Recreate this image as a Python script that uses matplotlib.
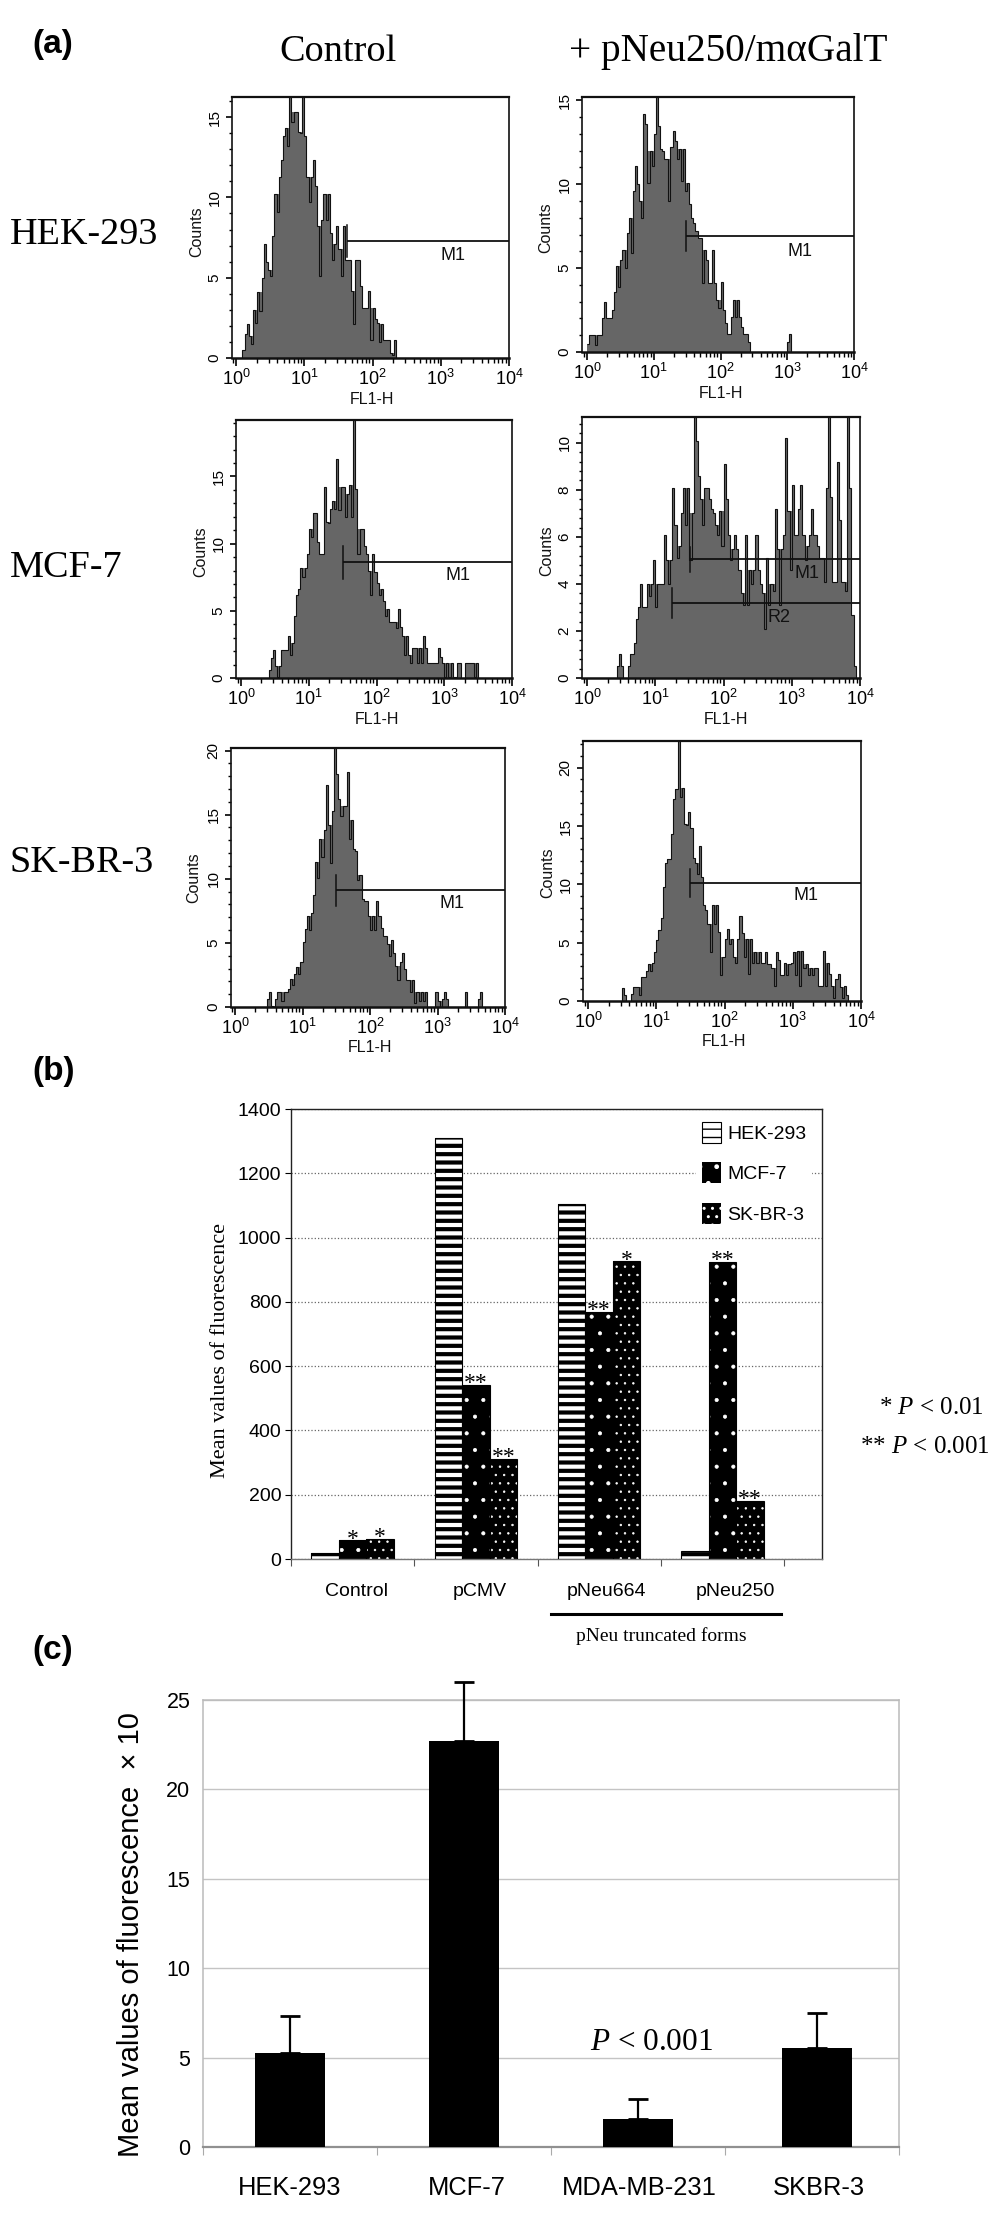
import numpy as np
import matplotlib
matplotlib.use('Agg')
import matplotlib.pyplot as plt
from matplotlib.ticker import MultipleLocator, LogLocator, NullFormatter

plt.rcParams['font.family'] = 'Liberation Sans'
plt.rcParams['mathtext.fontset'] = 'custom'
plt.rcParams['mathtext.rm'] = 'Liberation Serif'
plt.rcParams['mathtext.it'] = 'Liberation Serif:italic'

W, H = 1004, 2221
SERIF = 'Liberation Serif'

# flow cytometry counts, one value per channel (32 channels a decade)
hek_control = [0, 0, 0, .5, 1.5, 2.1, 1.4, .9, 3.0, 2.2, 4.1, 2.9, 5.0, 7.1, 6.0, 5.5, 5.1, 7.6, 10.2, 9.1,
               11.3, 12.3, 13.8, 14.3, 13.2, 17, 14.7, 15.3, 15.3, 14.1, 14.0, 17, 13.8, 11.3, 9.7, 11.3, 12.3,
               10.7, 8.2, 5.1, 8.6, 10.2, 8.6, 10.2, 7.8, 6.1, 7.1, 8.2, 6.8, 5.1, 8.2, 6.1, 6.1, 6.1, 4.2, 2.1,
               6.1, 6.1, 4.5, 3.1, 3.1, 3.1, 4.2, 1.1, 3.1, 2.4, 2.2, 1.0, 2.1, 1.1, 1.1, 1.1, .3, .2, 1.1]
hek_neu = [.5, 1.0, 1.0, 1.0, .4, 1.0, 1.0, 2.0, 3.0, 2.0, 2.0, 2.0, 2.5, 3.6, 5.1, 3.9, 5.5, 6.1, 5.0, 7.1, 8.0,
           5.9, 9.6, 11.1, 10.0, 9.0, 8.0, 14.2, 13.6, 10.1, 12.0, 11.1, 13.0, 15.6, 13.5, 12.1, 12.0, 11.5, 11.5,
           9.0, 12.2, 13.2, 12.6, 11.5, 12.1, 10.2, 12.1, 9.6, 10.1, 8.8, 8.0, 7.7, 7.2, 6.8, 6.8, 4.1, 6.1, 5.5,
           4.1, 4.1, 6.1, 4.1, 3.1, 2.6, 4.2, 2.5, 1.7, 1.1, 1.1, 2.1, 3.1, 2.1, 3.1, 2.1, 1.5, 1.1, 1.1, .6, 0,
           0, 0, 0, 0, 0, 0, 0, 0, 0, 0, 0, 0, 0, 0, 0, 0, 0, .6, 1.1]
mcf_control = [0, 0, 0, 0, 0, 0, 0, 0, 0, 0, 0, 0, 0, .6, 1.5, 2.1, .9, .1, .9, 2.1, 2.1, 2.1, 3.1, 1.7, 2.6, 4.6,
               6.2, 6.6, 8.2, 7.5, 8.2, 9.2, 11.1, 10.5, 12.3, 12.3, 10.1, 9.2, 9.2, 14.2, 11.6, 11.5, 12.6, 13.2,
               12.6, 16.3, 12.5, 14.2, 14.2, 12.0, 13.7, 14.4, 12.0, 20, 14.1, 9.2, 11.1, 11.1, 9.8, 9.2, 8.0, 6.2,
               9.2, 7.9, 7.1, 6.2, 6.6, 5.7, 4.6, 5.1, 4.2, 4.2, 4.2, 3.7, 5.1, 3.8, 3.1, 1.7, 3.1, 1.7, 1.1, 2.2,
               2.2, 1.1, 2.2, 1.1, 3.1, 2.2, 1.1, 1.1, 1.1, 1.1, 1.1, 2.2, 1.6, 1.1, .1, 1.1, .1, 1.1, .1, .1, 1.1,
               1.1, 0, 0, 1.1, 1.1, 1.1, 1.1, .1, 1.1]
mcf_neu = [0, 0, 0, 0, 0, 0, 0, 0, 0, 0, 0, 0, 0, 0, .5, 1.0, .5, 0, 0, .5, 1.0, 1.0, 1.5, 2.5, 3.0, 4.0, 3.0, 3.0,
           4.0, 3.5, 4.0, 5.0, 3.0, 4.0, 4.0, 4.0, 6.1, 5.0, 4.0, 5.0, 8.1, 6.5, 5.1, 5.6, 7.0, 8.1, 6.5, 8.1, 5.0,
           7.0, 12, 10.1, 8.6, 7.6, 6.5, 8.1, 8.1, 7.6, 7.2, 7.0, 6.5, 6.1, 7.1, 5.6, 9.1, 7.6, 6.1, 5.0, 5.5, 6.1,
           5.5, 4.6, 3.6, 3.1, 6.1, 3.1, 4.6, 4.0, 4.6, 6.1, 4.6, 4.0, 3.6, 2.1, 5.1, 3.1, 4.0, 3.7, 7.2, 5.5, 3.1,
           5.5, 6.1, 10.2, 7.1, 4.6, 8.2, 6.1, 6.1, 7.2, 8.2, 6.1, 5.0, 5.6, 6.1, 7.2, 6.1, 6.1, 5.6, 5.1, 5.1, 4.1,
           8.1, 12, 7.7, 4.1, 4.1, 9.2, 6.7, 4.1, 4.1, 3.7, 12, 8.1, 2.7, .5]
sk_control = [0, 0, 0, 0, 0, 0, 0, 0, 0, 0, 0, 0, 0, 0, 0, .6, 1.2, .1, 0, .6, 1.2, 1.2, .5, 1.2, 1.2, 1.4, 2.2, 1.7,
              2.6, 3.1, 2.6, 3.5, 5.1, 6.1, 7.1, 6.0, 7.3, 8.7, 11.3, 10.1, 13.1, 11.7, 13.8, 17.3, 14.2, 11.2, 15.3,
              21, 18.2, 16.2, 14.9, 15.7, 15.7, 18.3, 13.1, 14.6, 12.3, 12.2, 9.9, 10.3, 8.4, 8.3, 8.3, 7.1, 6.0, 7.1,
              6.0, 8.3, 7.1, 6.2, 5.5, 5.5, 4.9, 4.0, 5.2, 4.2, 3.2, 2.1, 3.5, 4.2, 3.0, 2.1, 2.1, 1.2, 2.1, .3, 1.2,
              .5, 1.2, .5, 1.2, 0, 0, 0, 0, 1.2, .5, 0, .6, 1.2, .6, 0, 0, 0, 0, 0, 0, 0, 0, 1.2, 0, 0, 0, 0, 0, .6, 1.2]
sk_neu = [0, 0, 0, 0, 0, 0, 0, 0, 0, 0, 0, 0, 0, 0, 0, 0, 1.1, .5, 0, 0, .6, 1.2, 1.2, 1.2, .5, 2.1, 2.1, 2.6, 3.2, 2.6,
          3.3, 4.2, 5.2, 6.1, 7.1, 9.8, 11.8, 12.2, 12.2, 14.3, 17.3, 18.2, 23, 17.5, 18.3, 15.2, 15.1, 16.2, 14.8,
          12.3, 11.8, 10.9, 13.3, 10.6, 8.2, 7.8, 6.6, 4.2, 8.2, 6.6, 8.2, 5.9, 2.2, 3.8, 5.3, 6.2, 4.9, 5.3, 3.8, 3.3,
          5.3, 7.3, 5.8, 3.8, 5.3, 2.3, 5.3, 3.3, 4.2, 3.3, 4.2, 3.3, 3.3, 4.2, 3.2, 3.2, 2.8, 1.3, 4.2, 3.5, 2.2, 2.2,
          3.3, 2.2, 3.2, 3.3, 4.2, 2.2, 4.3, 1.3, 4.3, 2.8, 3.2, 2.2, 2.8, 2.2, 2.8, 2.8, 1.3, 1.3, 4.3, 1.3, 3.3, 2.3,
          1.3, .3, 1.9, 2.3, 1.2, .3, 1.3, .5]

# panel (b)
groups_b = ['Control', 'pCMV', 'pNeu664', 'pNeu250']
hek_b = [20, 1311, 1105, 24]
mcf_b = [58, 541, 769, 923]
skbr_b = [63, 311, 926, 182]
hek_stars = ['', '', '', '']
mcf_stars = ['*', '**', '**', '**']
skbr_stars = ['*', '**', '*', '**']

# panel (c)
cells_c = ['HEK-293', 'MCF-7', 'MDA-MB-231', 'SKBR-3']
means_c = [5.26, 22.7, 1.58, 5.55]
errs_c = [2.07, 3.3, 1.09, 1.95]

fig = plt.figure(figsize=(W / 100, H / 100), dpi=100, facecolor='white')


def add_ax(l, t, r, b):
    return fig.add_axes([l / W, 1 - b / H, (r - l) / W, (b - t) / H])


def ftext(x, y, s, **kw):
    kw.setdefault('ha', 'center')
    kw.setdefault('va', 'center')
    return fig.text(x / W, 1 - y / H, s, **kw)


def facs(vals, box, x0, x4, ytop, ymaj, ymin, gates, counts_xy, fl1_xy):
    l, t, r, b = box
    ax = add_ax(l, t, r, b)
    ax.set_xscale('log')
    edges = np.logspace(0, 4, 129)
    y = np.zeros(128)
    y[:len(vals)] = vals
    # one channel dips stay grey under the black trace, as on the cytometer print
    solid = np.maximum(y, np.minimum(np.r_[0, y[:-1]], np.r_[y[1:], 0]))
    ax.stairs(solid, edges, fill=True, color='#666666', lw=0, baseline=0)
    ax.stairs(y, edges, color='#111111', lw=0.8, baseline=None)
    dec = (x4 - x0) / 4
    ax.set_xlim(10 ** ((l - x0) / dec), 10 ** ((r - x0) / dec))
    ax.set_ylim(0, ytop)
    ax.xaxis.set_major_locator(LogLocator(base=10, numticks=8))
    ax.xaxis.set_minor_locator(LogLocator(base=10, subs=np.arange(2, 10), numticks=12))
    ax.xaxis.set_minor_formatter(NullFormatter())
    ax.yaxis.set_major_locator(MultipleLocator(ymaj))
    ax.yaxis.set_minor_locator(MultipleLocator(ymin))
    ax.tick_params(axis='x', which='major', length=5.5, width=1.2, labelsize=13, pad=2)
    ax.tick_params(axis='x', which='minor', length=3.5, width=1)
    ax.tick_params(axis='y', which='major', length=4.5, width=1.2, labelsize=11, pad=3)
    ax.tick_params(axis='y', which='minor', length=2.5, width=1)
    for lab in ax.get_yticklabels():
        lab.set_rotation(90)
        lab.set_va('center')
    for s in ax.spines.values():
        s.set_linewidth(1.2)
        s.set_color('#111111')
    ax.spines['top'].set_linewidth(1.6)
    ax.spines['bottom'].set_linewidth(1.8)
    for g in gates:
        gx, gy, dy, name, nx, ny = g
        ax.plot([gx, 1e4], [gy, gy], color='#111111', lw=1.3, solid_capstyle='butt')
        ax.plot([gx, gx], [gy - dy, gy + dy], color='#111111', lw=1.1)
        ftext(nx, ny, name, fontsize=13, color='#111111')
    ftext(counts_xy[0], counts_xy[1], 'Counts', rotation=90, fontsize=11.5, color='#111111')
    ftext(fl1_xy[0], fl1_xy[1], 'FL1-H', fontsize=11.5, color='#111111')
    return ax


facs(hek_control, (232, 97, 509, 358), 236, 509, 16.25, 5, 1,
     [(10 ** 1.62, 7.3, 1.0, 'M1', 453, 255)], (197, 232), (372, 400))
facs(hek_neu, (582, 97, 854, 352), 587, 854, 15.2, 5, 1,
     [(10 ** 1.48, 6.9, .9, 'M1', 800, 251)], (546, 228), (721, 394))
facs(mcf_control, (236, 420, 512, 678), 241, 512, 19.2, 5, 1,
     [(10 ** 1.5, 8.6, 1.2, 'M1', 458, 576)], (201, 552), (377, 720))
facs(mcf_neu, (582, 417, 860, 678), 587, 860, 11.1, 2, .4,
     [(10 ** 1.51, 5.04, .55, 'M1', 807, 573), (10 ** 1.25, 3.19, .65, 'R2', 779, 617)], (547, 551), (726, 720))
facs(sk_control, (231, 748, 505, 1007), 235, 505, 20.2, 5, 1,
     [(10 ** 1.5, 9.1, 1.2, 'M1', 452, 903)], (194, 878), (370, 1048))
facs(sk_neu, (583, 741, 861, 1001), 588, 861, 22.3, 5, 1,
     [(10 ** 1.49, 10.1, 1.2, 'M1', 806, 896)], (548, 873), (724, 1042))

ftext(338, 52, 'Control', family=SERIF, fontsize=27.5)
ftext(728, 52, '+ pNeu250/m\u03b1GalT', family=SERIF, fontsize=28.3)
for name, yy in [('HEK-293', 235), ('MCF-7', 568), ('SK-BR-3', 863)]:
    ftext(10, yy, name, family=SERIF, fontsize=27.5, ha='left')
for name, yy in [('(a)', 45), ('(b)', 1071), ('(c)', 1650)]:
    ftext(32, yy, name, fontweight='bold', fontsize=24, ha='left')

# panel (b)
axb = add_ax(291, 1109, 822, 1559)
bw = 0.222
xb = np.arange(4) + 0.277
rows = [(hek_b, 'HEK-293', 'white', 'black', '--', 3.0, hek_stars),
        (mcf_b, 'MCF-7', 'black', 'white', '.', 0.5, mcf_stars),
        (skbr_b, 'SK-BR-3', 'black', 'white', '..', 0.5, skbr_stars)]
for j, (vals, name, fc, ec, hatch, hlw, stars) in enumerate(rows):
    bars = axb.bar(xb + j * bw, vals, bw, facecolor=fc, edgecolor=ec, hatch=hatch, lw=0, zorder=2, label=name)
    for p in bars:
        p.set_hatch_linewidth(hlw)
    axb.bar(xb + j * bw, vals, bw, fill=False, edgecolor='black', lw=0.8, zorder=3)
    for xx, v, st in zip(xb + j * bw, vals, stars):
        if st:
            axb.annotate(st, (xx, v), xytext=(0, -3), textcoords='offset points', ha='center', va='baseline',
                         family=SERIF, fontsize=17, zorder=4)
axb.set_xlim(0, 4.306)
axb.set_ylim(0, 1400)
axb.set_yticks(np.arange(0, 1401, 200))
axb.yaxis.grid(True, color='#666666', lw=0.9, ls=':', zorder=0)
axb.set_axisbelow(True)
axb.set_xticks(np.arange(5))
axb.set_xticklabels([])
axb.set_xticks([.53, 1.53, 2.56, 3.6], minor=True)
axb.set_xticklabels(groups_b, minor=True, fontsize=14)
axb.tick_params(axis='x', which='major', length=5, width=0.8, color='#555555')
axb.tick_params(axis='x', which='minor', length=0, pad=17)
axb.tick_params(axis='y', length=4, width=0.8, labelsize=14, pad=3)
for s in axb.spines.values():
    s.set_linewidth(1)
    s.set_color('#222222')
axb.spines['bottom'].set_color('#777777')
leg = axb.legend(loc='upper right', bbox_to_anchor=(0.982, 0.985), fontsize=14, frameon=True, facecolor='white',
                 edgecolor='none', framealpha=1, fancybox=False, handlelength=0.95, handleheight=1.3,
                 labelspacing=1.0, handletextpad=0.35, borderpad=0.3, borderaxespad=0)
leg.set_zorder(1.5)
leg.legend_handles[0].set_linewidth(0.8)
ftext(221, 1350, 'Mean values of fluorescence', rotation=90, family=SERIF, fontsize=16)
fig.add_artist(plt.Line2D([551 / W, 781 / W], [1 - 1614 / H] * 2, color='black', lw=2.2))
ftext(661, 1636, 'pNeu truncated forms', family=SERIF, fontsize=14)
ftext(931, 1408, r'* $\mathit{P}$ < 0.01', family=SERIF, fontsize=18)
ftext(925, 1447, r'** $\mathit{P}$ < 0.001', family=SERIF, fontsize=18)

# panel (c)
axc = add_ax(203, 1700, 899, 2147)
xc = np.arange(4) + np.array([0, 0, 0, 0.03])
axc.bar(xc, means_c, 0.405, color='black', zorder=3)
axc.errorbar(xc, means_c, yerr=[np.zeros(4), errs_c], fmt='none', ecolor='black', elinewidth=1.6,
             capsize=7.5, capthick=2, clip_on=False, zorder=3)
axc.set_xlim(-0.5, 3.5)
axc.set_ylim(0, 25)
axc.set_yticks(np.arange(0, 26, 5))
axc.yaxis.grid(True, color='#c4c4c4', lw=1, zorder=0)
axc.set_axisbelow(True)
axc.set_xticks(np.arange(-0.5, 3.6, 1))
axc.set_xticklabels([])
axc.set_xticks([0, 1.015, 2.01, 3.04], minor=True)
axc.set_xticklabels(cells_c, minor=True, fontsize=18.4)
axc.tick_params(axis='x', which='major', length=6, width=0.8, color='#aaaaaa')
axc.tick_params(axis='x', which='minor', length=0, pad=21)
axc.tick_params(axis='y', length=0, labelsize=15.5, pad=9)
for s in axc.spines.values():
    s.set_linewidth(1.1)
    s.set_color('#bbbbbb')
axc.spines['bottom'].set_linewidth(1.6)
axc.spines['bottom'].set_color('#909090')
ftext(131, 1935, 'Mean values of fluorescence  \u00d7 10', rotation=90, fontsize=21)
ftext(651, 2043, r'$\mathit{P}$ < 0.001', family=SERIF, fontsize=22.5)

plt.savefig('out.png', dpi=100)
